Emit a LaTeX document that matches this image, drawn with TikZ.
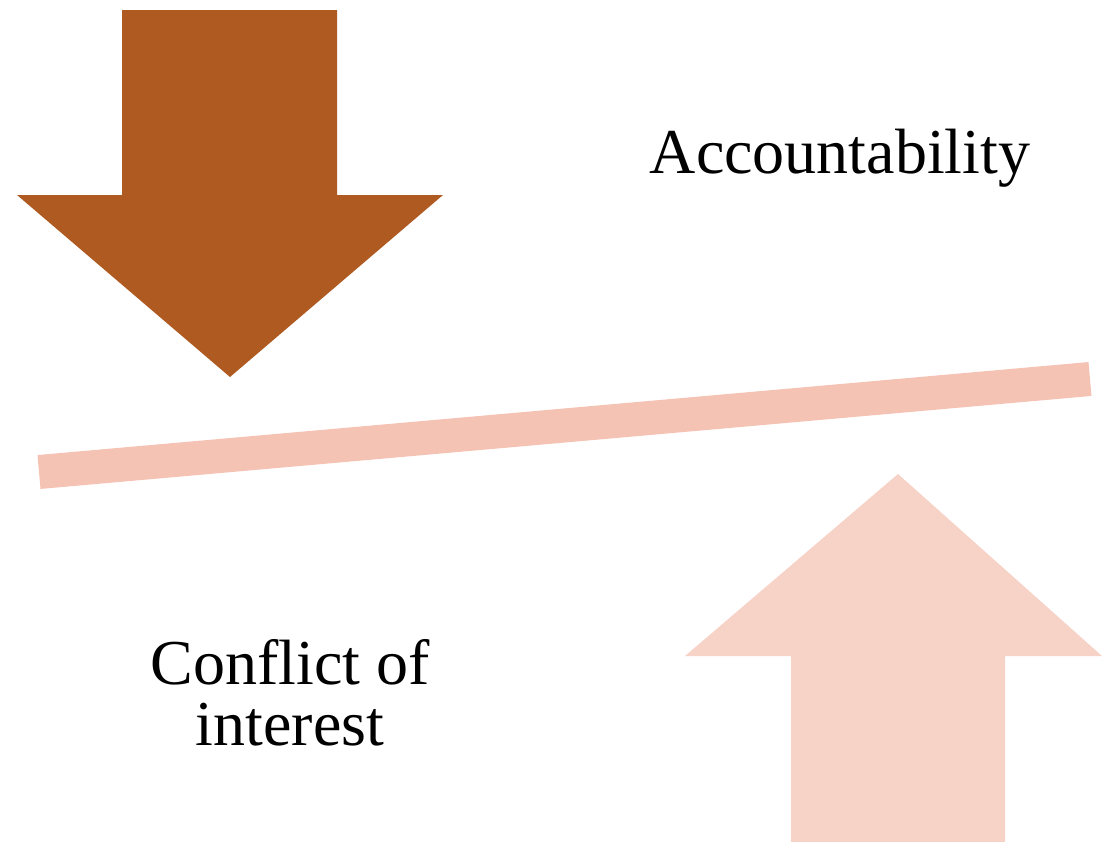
\documentclass[tikz,border=0pt]{standalone}
\usepackage{fontspec}
\setmainfont{Liberation Serif}
\definecolor{rust}{HTML}{AE5A21}
\definecolor{beam}{HTML}{F4C3B4}
\definecolor{lift}{HTML}{F7D2C7}
\tikzset{
  label text/.style={font=\fontsize{18.2}{17.4}\selectfont, align=center, inner sep=0pt},
}
\begin{document}
\begin{tikzpicture}[x=0.01cm, y=-0.01cm]
\useasboundingbox (0,0) rectangle (1102,842);
% pressure from above
\fill[rust] (122,10) -- (337,10) -- (337,195) -- (443,195) -- (230,377)
  -- (17,195) -- (122,195) -- cycle;
% the tilted beam
\coordinate (bl) at (39,472);
\coordinate (br) at (1090,379);
\draw[beam, line width=0.34cm] (bl) -- (br);
% pressure from below
\fill[lift] (791,842) -- (1005,842) -- (1005,656) -- (1102,656) -- (898,474)
  -- (685,656) -- (791,656) -- cycle;
\node[label text] (acc) at (840,158) {Accountability};
\node[label text] (coi) at (290,693) {Conflict of\\interest};
\end{tikzpicture}
\end{document}
